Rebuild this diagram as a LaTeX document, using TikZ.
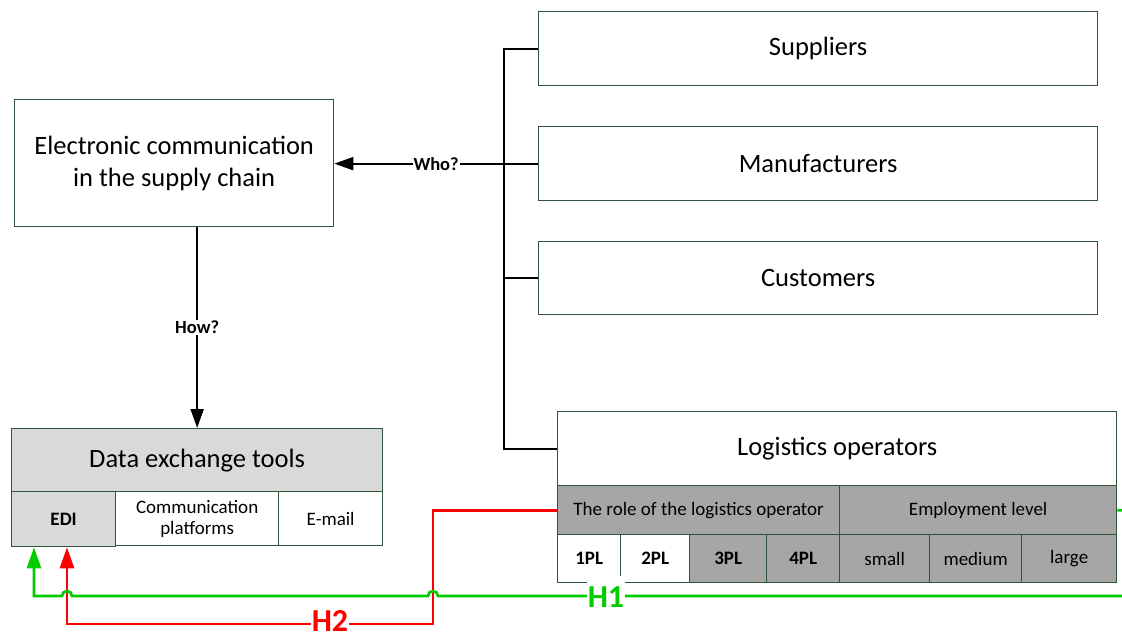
\documentclass[tikz,border=0pt]{standalone}
\usepackage{fontspec}
\setmainfont{Carlito}
\usetikzlibrary{arrows.meta}

\definecolor{frame}{RGB}{47,84,58}
\definecolor{headgray}{RGB}{217,217,217}
\definecolor{cellgray}{RGB}{166,166,166}
\definecolor{hgreen}{RGB}{0,204,0}
\definecolor{hred}{RGB}{255,0,0}

\tikzset{
  box/.style={draw=frame, line width=1.3pt, fill=white, inner sep=0pt,
    anchor=north west, align=center, font=\fontsize{26.5}{32}\selectfont},
  cell/.style={draw=frame, line width=1.3pt, fill=white, inner sep=0pt,
    anchor=north west, align=center, font=\fontsize{19}{21}\selectfont},
  boldcell/.style={cell, font=\fontsize{19}{21}\selectfont\bfseries},
  conn/.style={draw=black, line width=2pt},
  arr/.style={-{Triangle[length=19pt,width=13pt]}},
  lbl/.style={fill=white, inner xsep=1pt, inner ysep=1pt,
    font=\fontsize{18.5}{20}\selectfont\bfseries},
  hpath/.style={draw=#1, line width=2.7pt,
    -{Triangle[length=21pt,width=14pt]}},
  hlabel/.style={fill=white, inner xsep=1pt, inner ysep=0pt, anchor=base,
    text=#1, font=\fontsize{32}{34}\selectfont\bfseries},
}

\begin{document}
\begin{tikzpicture}[x=1pt, y=-1pt]
  \fill[white] (0,0) rectangle (1122,633);
  \useasboundingbox (0,0) rectangle (1122,633);
  \clip (0,0) rectangle (1122,633);

  % main topic
  \node[box, minimum width=319pt, minimum height=127pt] (ecm) at (14,99)
    {Electronic communication\\in the supply chain};

  % participants
  \node[box, minimum width=559pt, minimum height=74pt] (sup) at (538,11) {Suppliers};
  \node[box, minimum width=559pt, minimum height=74pt] (man) at (538,126) {Manufacturers};
  \node[box, minimum width=559pt, minimum height=73pt] (cus) at (538,241) {Customers};
  \node[box, minimum width=559pt, minimum height=74pt] (log) at (557,411) {Logistics operators};

  % logistics operator table
  \node[cell, fill=cellgray, minimum width=282pt, minimum height=49pt] (role) at (557,485)
    {The role of the logistics operator};
  \node[cell, fill=cellgray, minimum width=277pt, minimum height=49pt] (emp) at (839,485)
    {Employment level};
  \node[boldcell, minimum width=63pt, minimum height=48pt] (pl1) at (557,534) {1PL};
  \node[boldcell, minimum width=69pt, minimum height=48pt] (pl2) at (620,534) {2PL};
  \node[boldcell, fill=cellgray, minimum width=77pt, minimum height=48pt] (pl3) at (689,534) {3PL};
  \node[boldcell, fill=cellgray, minimum width=73pt, minimum height=48pt] (pl4) at (766,534) {4PL};
  \node[cell, fill=cellgray, minimum width=90pt, minimum height=48pt] (small) at (839,534) {small};
  \node[cell, fill=cellgray, minimum width=92pt, minimum height=48pt] (medium) at (929,534) {medium};
  \node[cell, fill=cellgray, minimum width=95pt, minimum height=48pt] (large) at (1021,534) {large};

  % data exchange tools
  \node[box, fill=headgray, minimum width=371pt, minimum height=63pt] (det) at (11,428)
    {Data exchange tools};
  \node[boldcell, fill=headgray, minimum width=104pt, minimum height=55pt] (edi) at (11,491) {EDI};
  \node[cell, minimum width=163pt, minimum height=54pt] (cp) at (115,491)
    {Communication\\platforms};
  \node[cell, minimum width=104pt, minimum height=54pt] (mail) at (278,491) {E-mail};

  % who? -- tree of participants
  \draw[conn] (sup.west) -- ++(-34,0) |- (log.west);
  \draw[conn] (cus.west) -- ++(-34,0);
  \draw[conn, arr] (man.west) -- node[lbl] {Who?} (man.west -| ecm.east);

  % how?
  \draw[conn, arr] (det.north |- ecm.south) -- node[lbl] {How?} (det.north);

  % hypothesis H2
  \coordinate (rcorner) at (433,624);
  \draw[hpath=hred] (role.west) -| (rcorner) -- (67,624) -- ([xshift=56pt]edi.south west);

  % hypothesis H1 (hops over the H2 line)
  \coordinate (gcorner) at (1140,596);
  \draw[hpath=hgreen] (emp.east) -| (gcorner) -- (438,596)
    arc[start angle=0, end angle=180, radius=5pt] -- (72,596)
    arc[start angle=0, end angle=180, radius=5pt] -- (34,596)
    -- ([xshift=23pt]edi.south west);

  \node[hlabel=hgreen, text height=31pt, text depth=3pt] (h1) at (606,607) {H1};
  \node[hlabel=hred, text height=22pt, text depth=0pt] (h2) at (330,631) {H2};
\end{tikzpicture}
\end{document}
